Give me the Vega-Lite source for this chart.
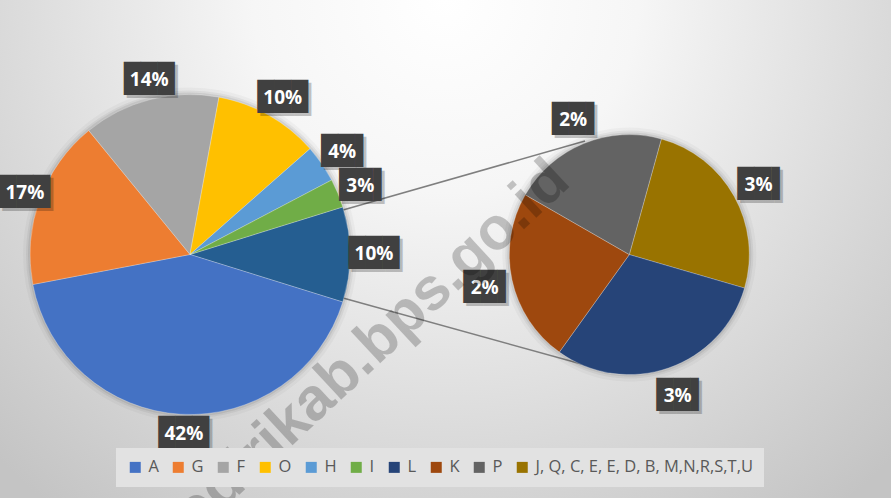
{
  "$schema": "https://vega.github.io/schema/vega-lite/v6.json",
  "width": 891,
  "height": 498,
  "padding": 0,
  "autosize": {"type": "none"},
  "datasets": {
    "main": [
      {"pie": "main", "ord": 0, "cat": "Other", "value": 9.6, "label": "10%"},
      {"pie": "main", "ord": 1, "cat": "A", "value": 42.2, "label": "42%"},
      {"pie": "main", "ord": 2, "cat": "G", "value": 17.1, "label": "17%"},
      {"pie": "main", "ord": 3, "cat": "F", "value": 13.8, "label": "14%"},
      {"pie": "main", "ord": 4, "cat": "O", "value": 10.6, "label": "10%"},
      {"pie": "main", "ord": 5, "cat": "H", "value": 3.8, "label": "4%"},
      {"pie": "main", "ord": 6, "cat": "I", "value": 2.9, "label": "3%"}
    ],
    "secondary": [
      {"pie": "secondary", "ord": 0, "cat": "J, Q, C, E, E, D, B, M,N,R,S,T,U", "value": 2.52, "label": "3%"},
      {"pie": "secondary", "ord": 1, "cat": "L", "value": 3.04, "label": "3%"},
      {"pie": "secondary", "ord": 2, "cat": "K", "value": 2.34, "label": "2%"},
      {"pie": "secondary", "ord": 3, "cat": "P", "value": 2.10, "label": "2%"}
    ],
    "connectors": [
      {"x": 343, "y": 210, "x2": 585, "y2": 141},
      {"x": 343, "y": 298, "x2": 585, "y2": 365}
    ],
    "watermark": [
      {"site": "kedirikab.bps.go.id"}
    ]
  },
  "layer": [
    {
      "data": {"name": "connectors"},
      "mark": {"type": "rule", "stroke": "#7f7f7f", "strokeWidth": 1.5},
      "encoding": {
        "x": {"field": "x", "type": "quantitative", "scale": {"domain": [0, 891], "range": [0, 891], "nice": false, "zero": false}, "axis": null},
        "x2": {"field": "x2"},
        "y": {"field": "y", "type": "quantitative", "scale": {"domain": [0, 498], "range": [0, 498], "nice": false, "zero": false}, "axis": null},
        "y2": {"field": "y2"}
      }
    },
    {
      "data": {"name": "main"},
      "encoding": {
        "x": {"field": "pie", "type": "nominal", "scale": {"type": "point", "domain": ["main", "secondary"], "range": [190, 629.3], "padding": 0}, "axis": null},
        "y": {"field": "pie", "type": "nominal", "scale": {"type": "point", "domain": ["main", "secondary"], "range": [254.5, 254.6], "padding": 0}, "axis": null},
        "theta": {"field": "value", "type": "quantitative", "stack": true, "scale": {"range": [1.2692, 7.5524]}},
        "order": {"field": "ord", "type": "quantitative"}
      },
      "layer": [
        {"mark": {"type": "arc", "outerRadius": 167, "color": "#000000", "opacity": 0.03}},
        {"mark": {"type": "arc", "outerRadius": 164, "color": "#000000", "opacity": 0.05}},
        {"mark": {"type": "arc", "outerRadius": 162, "color": "#000000", "opacity": 0.07}},
        {
          "mark": {"type": "arc", "outerRadius": 160, "stroke": "#ffffff", "strokeWidth": 0.5, "strokeOpacity": 0.5},
          "encoding": {
            "color": {
              "condition": {"test": "datum.cat === 'Other'", "value": "#255E91"},
              "field": "cat", "type": "nominal",
              "scale": {"domain": ["A", "G", "F", "O", "H", "I", "L", "K", "P", "J, Q, C, E, E, D, B, M,N,R,S,T,U"], "range": ["#4472C4", "#ED7D31", "#A5A5A5", "#FFC000", "#5B9BD5", "#70AD47", "#264478", "#9E480E", "#636363", "#997300"]},
              "legend": {"orient": "none", "legendX": 116, "legendY": 448, "direction": "horizontal", "columns": 10, "title": null, "symbolType": "square", "symbolSize": 121, "symbolStrokeWidth": 0, "labelFont": "Open Sans", "labelFontSize": 16.5, "labelColor": "#595959", "labelOffset": 5, "columnPadding": 11, "padding": 11, "fillColor": "#e2e2e2", "labelLimit": 400}
            }
          }
        },
        {
          "mark": {"type": "text", "radius": 180, "font": "DejaVu Sans Mono", "fontSize": 28, "baseline": "middle", "color": "#000000", "opacity": 0.22, "dx": 7, "dy": 3},
          "encoding": {"text": {"condition": {"test": "length(datum.label) > 2", "value": "███"}, "value": ""}}
        },
        {
          "mark": {"type": "text", "radius": 180, "font": "DejaVu Sans Mono", "fontSize": 28, "baseline": "middle", "color": "#000000", "opacity": 0.22, "dx": 11.2, "dy": 3},
          "encoding": {"text": {"condition": {"test": "length(datum.label) <= 2", "value": "██▌"}, "value": ""}}
        },
        {
          "mark": {"type": "text", "radius": 180, "font": "DejaVu Sans Mono", "fontSize": 28, "baseline": "middle", "color": "#404040", "dx": 4},
          "encoding": {"text": {"condition": {"test": "length(datum.label) > 2", "value": "███"}, "value": ""}}
        },
        {
          "mark": {"type": "text", "radius": 180, "font": "DejaVu Sans Mono", "fontSize": 28, "baseline": "middle", "color": "#404040", "dx": 8.2},
          "encoding": {"text": {"condition": {"test": "length(datum.label) <= 2", "value": "██▌"}, "value": ""}}
        },
        {
          "mark": {"type": "text", "radius": 180, "font": "Open Sans", "fontWeight": "bold", "fontSize": 19, "baseline": "middle", "color": "#ffffff", "dx": 4},
          "encoding": {"text": {"field": "label"}}
        }
      ]
    },
    {
      "data": {"name": "secondary"},
      "encoding": {
        "x": {"field": "pie", "type": "nominal", "scale": {"type": "point", "domain": ["main", "secondary"], "range": [190, 629.3], "padding": 0}, "axis": null},
        "y": {"field": "pie", "type": "nominal", "scale": {"type": "point", "domain": ["main", "secondary"], "range": [254.5, 254.6], "padding": 0}, "axis": null},
        "theta": {"field": "value", "type": "quantitative", "stack": true, "scale": {"range": [0.2705, 6.5537]}},
        "order": {"field": "ord", "type": "quantitative"}
      },
      "layer": [
        {"mark": {"type": "arc", "outerRadius": 127, "color": "#000000", "opacity": 0.03}},
        {"mark": {"type": "arc", "outerRadius": 124, "color": "#000000", "opacity": 0.05}},
        {"mark": {"type": "arc", "outerRadius": 122, "color": "#000000", "opacity": 0.07}},
        {
          "mark": {"type": "arc", "outerRadius": 120, "stroke": "#ffffff", "strokeWidth": 0.5, "strokeOpacity": 0.5},
          "encoding": {
            "color": {
              "field": "cat", "type": "nominal",
              "scale": {"domain": ["A", "G", "F", "O", "H", "I", "L", "K", "P", "J, Q, C, E, E, D, B, M,N,R,S,T,U"], "range": ["#4472C4", "#ED7D31", "#A5A5A5", "#FFC000", "#5B9BD5", "#70AD47", "#264478", "#9E480E", "#636363", "#997300"]},
              "legend": {"orient": "none", "legendX": 116, "legendY": 448, "direction": "horizontal", "columns": 10, "title": null, "symbolType": "square", "symbolSize": 121, "symbolStrokeWidth": 0, "labelFont": "Open Sans", "labelFontSize": 16.5, "labelColor": "#595959", "labelOffset": 5, "columnPadding": 11, "padding": 11, "fillColor": "#e2e2e2", "labelLimit": 400}
            }
          }
        },
        {
          "mark": {"type": "text", "radius": 148, "font": "DejaVu Sans Mono", "fontSize": 28, "baseline": "middle", "color": "#000000", "opacity": 0.22, "dx": 7.2, "dy": 5, "text": "██▌"}
        },
        {
          "mark": {"type": "text", "radius": 148, "font": "DejaVu Sans Mono", "fontSize": 28, "baseline": "middle", "color": "#404040", "dx": 4.2, "dy": 2, "text": "██▌"}
        },
        {
          "mark": {"type": "text", "radius": 148, "font": "Open Sans", "fontWeight": "bold", "fontSize": 19, "baseline": "middle", "color": "#ffffff", "dy": 2},
          "encoding": {"text": {"field": "label"}}
        }
      ]
    },
    {
      "data": {"name": "watermark"},
      "mark": {"type": "text", "angle": -43, "font": "Liberation Sans", "fontWeight": "bold", "fontSize": 60, "align": "right", "baseline": "middle", "color": "#000000", "opacity": 0.21},
      "encoding": {
        "text": {"field": "site"},
        "x": {"datum": 560, "type": "quantitative", "scale": {"domain": [0, 891], "range": [0, 891], "nice": false, "zero": false}, "axis": null},
        "y": {"datum": 171, "type": "quantitative", "scale": {"domain": [0, 498], "range": [0, 498], "nice": false, "zero": false}, "axis": null}
      }
    }
  ],
  "resolve": {"scale": {"theta": "independent", "x": "independent", "y": "independent"}},
  "config": {
    "view": {
      "stroke": null,
      "fill": {"gradient": "radial", "x1": 0.5, "y1": 0.22, "r1": 0, "x2": 0.5, "y2": 0.22, "r2": 0.72, "stops": [{"offset": 0, "color": "#ffffff"}, {"offset": 0.3, "color": "#f6f6f6"}, {"offset": 1, "color": "#c4c4c4"}]}
    }
  }
}
